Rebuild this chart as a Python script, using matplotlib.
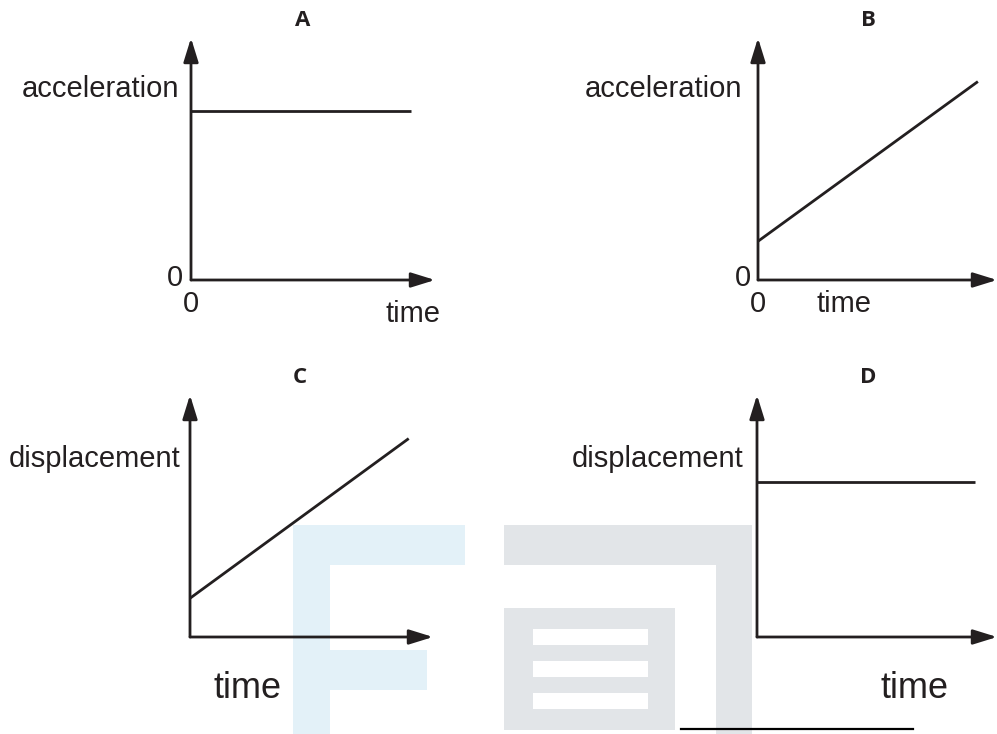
import matplotlib
matplotlib.use("Agg")
import matplotlib.pyplot as plt
from matplotlib.patches import Rectangle

W, H = 997, 734
INK = "#231f20"

# panel data (axis range 0..10 on both axes)
panel_names = ["A", "B", "C", "D"]
y_labels = ["acceleration", "acceleration", "displacement", "displacement"]
line_x = [[0, 9.0], [0, 9.2], [0, 9.0], [0, 9.1]]
line_y = [[7.0, 7.0], [1.6, 8.2], [1.6, 8.2], [6.4, 6.4]]

# axes boxes in pixels: origin x, origin y, x arrow tip, y arrow tip
boxes = [(191, 280, 435, 38), (758, 280, 997, 38),
         (190, 637, 433, 395), (757, 637, 997, 395)]

plt.rcParams["font.family"] = ["Liberation Sans", "DejaVu Sans"]
fig = plt.figure(figsize=(W / 100, H / 100), dpi=100)


def ftext(x, y, s, **kw):
    kw.setdefault("color", INK)
    kw.setdefault("va", "baseline")
    fig.text(x / W, 1 - y / H, s, **kw)


# watermark and bottom rule
bg = fig.add_axes([0, 0, 1, 1])
bg.set_xlim(0, W)
bg.set_ylim(H, 0)
bg.axis("off")
blue = "#e3f1f8"
grey = "#e2e5e8"
for r in [(293, 525, 37, 209), (293, 525, 172, 40), (293, 650, 134, 40)]:
    bg.add_patch(Rectangle((r[0], r[1]), r[2], r[3], color=blue, lw=0))
for r in [(504, 525, 248, 40), (716, 525, 36, 209), (504, 608, 171, 122)]:
    bg.add_patch(Rectangle((r[0], r[1]), r[2], r[3], color=grey, lw=0))
for yy in [629, 661, 693]:
    bg.add_patch(Rectangle((533, yy), 115, 16, color="white", lw=0))
bg.plot([681, 913], [729, 729], color="black", lw=1.6)

arrow = dict(arrowstyle="-|>,head_length=1.45,head_width=0.45",
             color=INK, lw=2.0, shrinkA=0, shrinkB=0, mutation_scale=10)

for i, (x0, y0, xt, yt) in enumerate(boxes):
    ax = fig.add_axes([x0 / W, 1 - y0 / H, (xt - x0) / W, (y0 - yt) / H])
    ax.set_xlim(0, 10)
    ax.set_ylim(0, 10)
    ax.axis("off")
    ax.annotate("", xy=(10, 0), xytext=(0, 0), arrowprops=arrow,
                annotation_clip=False)
    ax.annotate("", xy=(0, 10), xytext=(0, 0), arrowprops=arrow,
                annotation_clip=False)
    ax.plot(line_x[i], line_y[i], color=INK, lw=2.0, solid_capstyle="butt",
            clip_on=False)

lab = dict(fontsize=21)
ttl = dict(ha="center", fontsize=16, fontweight="bold",
           family=["Open Sans", "DejaVu Sans"])
# panel A
ftext(303, 26, panel_names[0], **ttl)
ftext(179, 97, y_labels[0], ha="right", **lab)
ftext(183, 286, "0", ha="right", **lab)
ftext(191, 312, "0", ha="center", **lab)
ftext(413, 322, "time", ha="center", **lab)
# panel B
ftext(868, 26, panel_names[1], **ttl)
ftext(742, 97, y_labels[1], ha="right", **lab)
ftext(751, 286, "0", ha="right", **lab)
ftext(758, 312, "0", ha="center", **lab)
ftext(844, 312, "time", ha="center", **lab)
# panel C
ftext(300, 383, panel_names[2], **ttl)
ftext(180, 467, y_labels[2], ha="right", **lab)
ftext(247, 698, "time", ha="center", fontsize=26)
# panel D
ftext(868, 383, panel_names[3], **ttl)
ftext(743, 467, y_labels[3], ha="right", **lab)
ftext(914, 698, "time", ha="center", fontsize=26)

fig.savefig("out.png", dpi=100)
